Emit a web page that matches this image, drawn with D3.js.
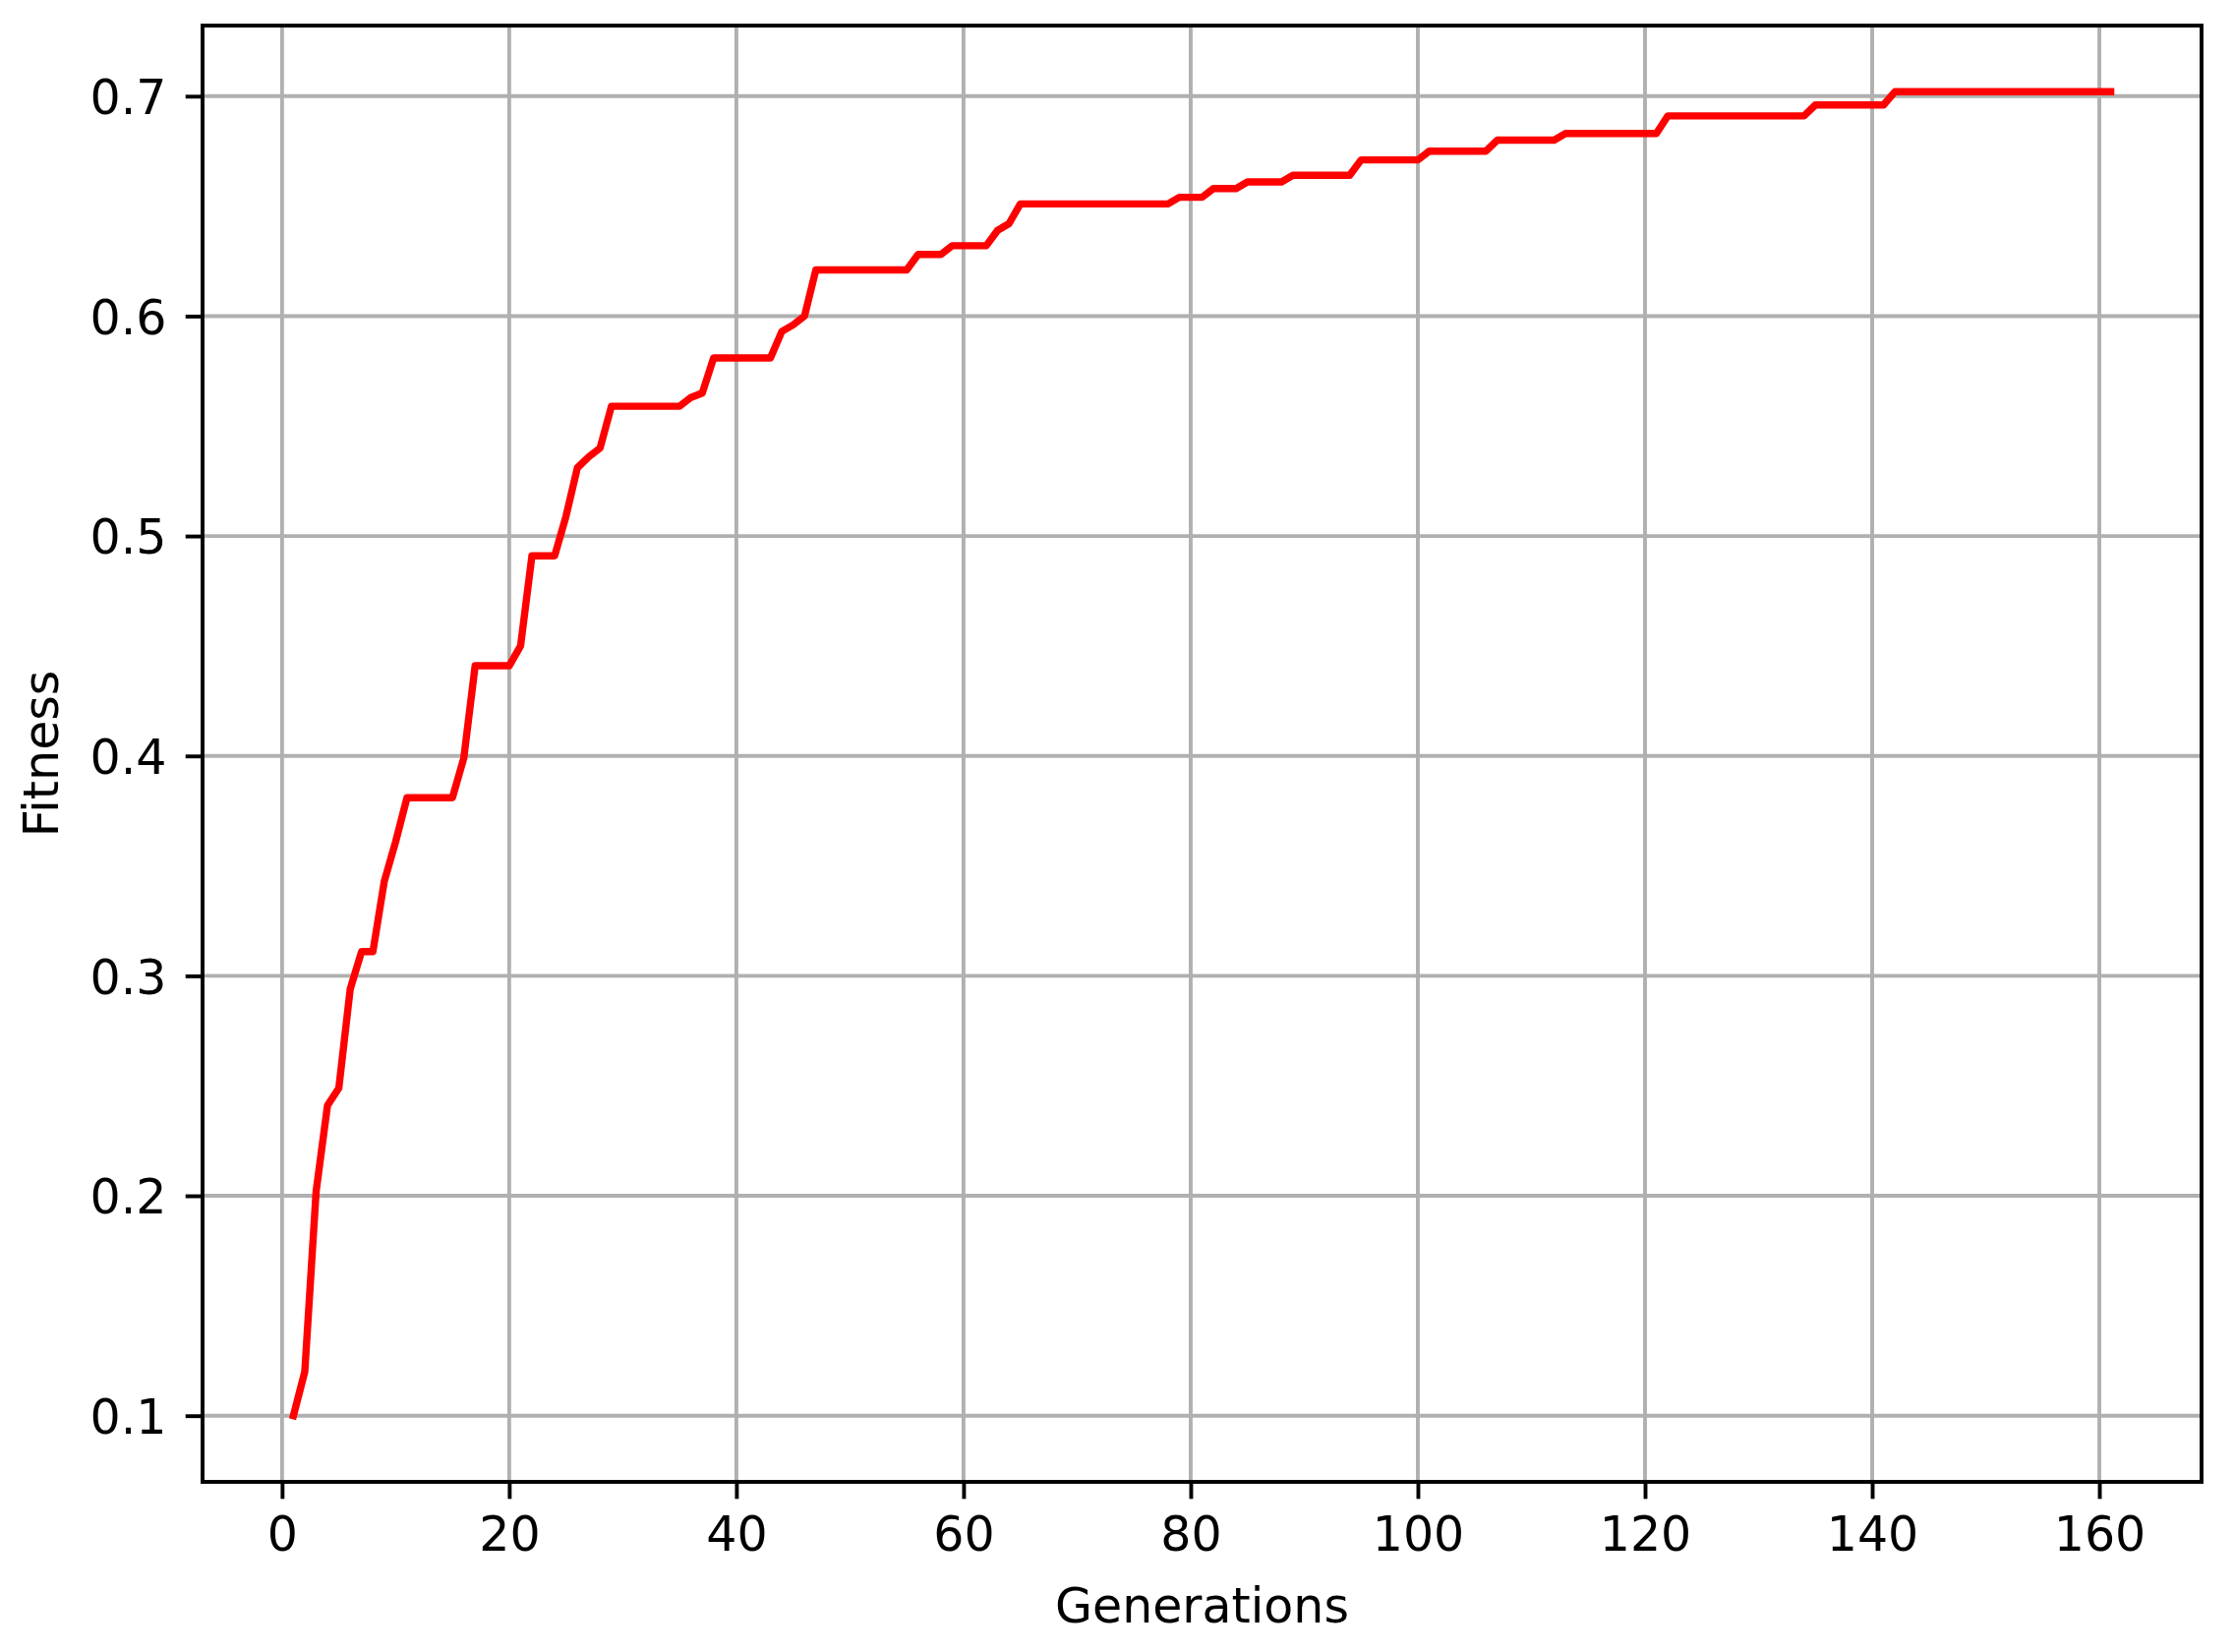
<!DOCTYPE html>
<html lang="en">
<head>
    <meta charset="UTF-8">
    <title>Fitness</title>
    <style>
        body { margin: 0; background: #fff; }
        text { font-family: "DejaVu Sans", sans-serif; }
    </style>
</head>
<script src="https://d3js.org/d3.v7.min.js"></script>
<body>
<script>
    // best fitness per generation (generation = index + 1)
    var fitness = [
        0.100, 0.120, 0.202, 0.241, 0.249, 0.294, 0.311, 0.311, 0.343, 0.361,
        0.381, 0.381, 0.381, 0.381, 0.381, 0.399, 0.441, 0.441, 0.441, 0.441,
        0.450, 0.491, 0.491, 0.491, 0.509, 0.531, 0.536, 0.540, 0.559, 0.559,
        0.559, 0.559, 0.559, 0.559, 0.559, 0.563, 0.565, 0.581, 0.581, 0.581,
        0.581, 0.581, 0.581, 0.593, 0.596, 0.600, 0.621, 0.621, 0.621, 0.621,
        0.621, 0.621, 0.621, 0.621, 0.621, 0.628, 0.628, 0.628, 0.632, 0.632,
        0.632, 0.632, 0.639, 0.642, 0.651, 0.651, 0.651, 0.651, 0.651, 0.651,
        0.651, 0.651, 0.651, 0.651, 0.651, 0.651, 0.651, 0.651, 0.654, 0.654,
        0.654, 0.658, 0.658, 0.658, 0.661, 0.661, 0.661, 0.661, 0.664, 0.664,
        0.664, 0.664, 0.664, 0.664, 0.671, 0.671, 0.671, 0.671, 0.671, 0.671,
        0.675, 0.675, 0.675, 0.675, 0.675, 0.675, 0.680, 0.680, 0.680, 0.680,
        0.680, 0.680, 0.683, 0.683, 0.683, 0.683, 0.683, 0.683, 0.683, 0.683,
        0.683, 0.691, 0.691, 0.691, 0.691, 0.691, 0.691, 0.691, 0.691, 0.691,
        0.691, 0.691, 0.691, 0.691, 0.696, 0.696, 0.696, 0.696, 0.696, 0.696,
        0.696, 0.702, 0.702, 0.702, 0.702, 0.702, 0.702, 0.702, 0.702, 0.702,
        0.702, 0.702, 0.702, 0.702, 0.702, 0.702, 0.702, 0.702, 0.702, 0.702,
        0.702
    ];
    var xTicks = [0, 20, 40, 60, 80, 100, 120, 140, 160];
    var yTicks = [0.1, 0.2, 0.3, 0.4, 0.5, 0.6, 0.7];
    var xTitle = "Generations",
        yTitle = "Fitness";

    var W = 2272, H = 1680;
    var margin = {top: 26, right: 33, bottom: 173, left: 206},
        width = W - margin.left - margin.right,
        height = H - margin.top - margin.bottom;
    var lw = 3.9, fs = 49, tickLen = 17.3, pad = 17.3;

    // matplotlib-style 5% margins around the data
    var gens = fitness.map(function (d, i) { return i + 1; });
    var xMin = d3.min(gens), xMax = d3.max(gens),
        yMin = d3.min(fitness), yMax = d3.max(fitness);
    var xm = (xMax - xMin) * 0.05, ym = (yMax - yMin) * 0.05;

    var xScale = d3.scaleLinear().domain([xMin - xm, xMax + xm]).range([0, width]),
        yScale = d3.scaleLinear().domain([yMin - ym, yMax + ym]).range([height, 0]);

    var svg = d3.select("body").append("svg")
        .attr("width", W)
        .attr("height", H);
    svg.append("rect").attr("width", W).attr("height", H).attr("fill", "#fff");

    var g = svg.append("g")
        .attr("transform", "translate(" + margin.left + "," + margin.top + ")");

    // grid
    g.append("g").selectAll("line").data(xTicks).enter().append("line")
        .attr("x1", function (d) { return xScale(d); })
        .attr("x2", function (d) { return xScale(d); })
        .attr("y1", 0).attr("y2", height)
        .attr("stroke", "#b0b0b0").attr("stroke-width", lw);
    g.append("g").selectAll("line").data(yTicks).enter().append("line")
        .attr("y1", function (d) { return yScale(d); })
        .attr("y2", function (d) { return yScale(d); })
        .attr("x1", 0).attr("x2", width)
        .attr("stroke", "#b0b0b0").attr("stroke-width", lw);

    // fitness line
    var line = d3.line()
        .x(function (d, i) { return xScale(gens[i]); })
        .y(function (d) { return yScale(d); });
    g.append("path")
        .datum(fitness)
        .attr("d", line)
        .attr("fill", "none")
        .attr("stroke", "#ff0000")
        .attr("stroke-width", 7.4)
        .attr("stroke-linejoin", "round")
        .attr("stroke-linecap", "square");

    // axes
    var xAxis = d3.axisBottom(xScale).tickValues(xTicks).tickSize(tickLen).tickPadding(pad)
        .tickFormat(function (d) { return d; });
    var yAxis = d3.axisLeft(yScale).tickValues(yTicks).tickSize(tickLen).tickPadding(pad + 2)
        .tickFormat(d3.format(".1f"));

    var gx = g.append("g")
        .attr("transform", "translate(0," + height + ")")
        .call(xAxis);
    var gy = g.append("g").call(yAxis);

    [gx, gy].forEach(function (a) {
        a.select(".domain").remove();
        a.selectAll(".tick line").attr("stroke", "#000").attr("stroke-width", lw);
        a.selectAll(".tick text")
            .attr("fill", "#000")
            .attr("font-size", fs + "px")
            .attr("font-family", "DejaVu Sans");
    });
    gx.selectAll(".tick text").attr("dy", null).attr("y", tickLen + pad + 35.7);
    gy.selectAll(".tick text").attr("dy", null).attr("y", 17.9);

    // frame
    g.append("rect")
        .attr("x", 0).attr("y", 0)
        .attr("width", width).attr("height", height)
        .attr("fill", "none")
        .attr("stroke", "#000")
        .attr("stroke-width", lw);

    // titles
    svg.append("text")
        .attr("x", margin.left + width / 2)
        .attr("y", 1650)
        .attr("text-anchor", "middle")
        .attr("font-size", fs + "px")
        .text(xTitle);
    svg.append("text")
        .attr("transform", "translate(59," + (margin.top + height / 2) + ") rotate(-90)")
        .attr("text-anchor", "middle")
        .attr("font-size", fs + "px")
        .text(yTitle);
</script>
</body>
</html>
